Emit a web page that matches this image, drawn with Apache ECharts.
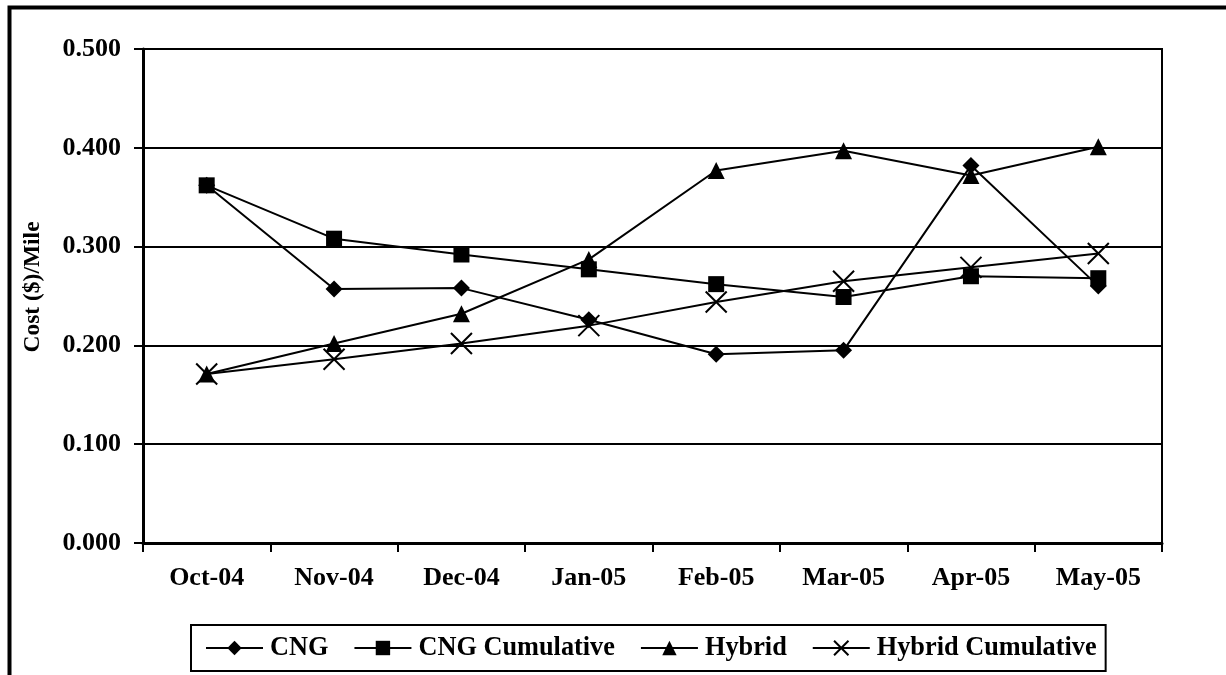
<!DOCTYPE html>
<html><head><meta charset="utf-8">
<script src="https://cdn.jsdelivr.net/npm/echarts@6/dist/echarts.min.js"></script>
<style>html,body{margin:0;padding:0;background:#fff}#c{width:1226px;height:675px}</style>
</head><body><div id="c"></div>
<script>
const categories = ['Oct-04','Nov-04','Dec-04','Jan-05','Feb-05','Mar-05','Apr-05','May-05'];
const cng = [0.362, 0.257, 0.258, 0.226, 0.191, 0.195, 0.382, 0.260];
const cngCumulative = [0.362, 0.308, 0.292, 0.277, 0.262, 0.249, 0.270, 0.268];
const hybrid = [0.171, 0.202, 0.232, 0.287, 0.377, 0.397, 0.372, 0.401];
const hybridCumulative = [0.171, 0.186, 0.202, 0.220, 0.244, 0.265, 0.279, 0.293];
const yTicks = [0, 0.1, 0.2, 0.3, 0.4, 0.5];

const font = 'Liberation Serif';
const chart = echarts.init(document.getElementById('c'), null, {renderer:'canvas'});
const lineS = {color:'#000', width:2};
function mk(name, data, symbol, size, stroke){
  return {name, type:'line', data, symbol, symbolSize:size,
    lineStyle:lineS,
    itemStyle: stroke ? {color:'#000', borderColor:'#000', borderWidth:2} : {color:'#000', borderWidth:0},
    emphasis:{disabled:true}, animation:false};
}
chart.setOption({
  backgroundColor:'#fff',
  animation:false,
  graphic:[{type:'rect', shape:{x:9.5, y:7.5, width:1400, height:900}, style:{fill:'none', stroke:'#000', lineWidth:4}, z:100}],
  grid:{left:143, right:64, top:49, bottom:132, show:true, borderColor:'#000', borderWidth:2, backgroundColor:'transparent'},
  legend:{left:191, top:625, itemGap:25, itemWidth:57, itemHeight:18,
    borderColor:'#000', borderWidth:2, padding:[10,9,10,14],
    textStyle:{fontFamily:font, fontWeight:'bold', fontSize:26.3, color:'#000', padding:[0,0,0,2]},
    data:['CNG','CNG Cumulative','Hybrid','Hybrid Cumulative']},
  xAxis:{type:'category', data:categories, boundaryGap:true,
    axisLine:{lineStyle:{color:'#000', width:3}},
    axisTick:{show:true, length:9, inside:false, alignWithLabel:false, lineStyle:{color:'#000', width:2}},
    axisLabel:{fontFamily:font, fontWeight:'bold', fontSize:26, color:'#000', margin:22},
    splitLine:{show:false}},
  yAxis:{type:'value', min:0, max:0.5, interval:0.1,
    name:'Cost ($)/Mile', nameLocation:'middle', nameRotate:90, nameGap:98,
    nameTextStyle:{fontFamily:font, fontWeight:'bold', fontSize:23.5, color:'#000', padding:[0,0,0,18]},
    axisLine:{show:true, lineStyle:{color:'#000', width:3}},
    axisTick:{show:true, length:9, lineStyle:{color:'#000', width:2}},
    axisLabel:{fontFamily:font, fontWeight:'bold', fontSize:26, color:'#000', margin:22,
      formatter:v=>{const t=yTicks.find(x=>Math.abs(x-v)<1e-9); return (t!==undefined?t:v).toFixed(3);}},
    splitLine:{show:true, lineStyle:{color:'#000', width:2}}},
  series:[
    mk('CNG', cng, 'diamond', 17),
    mk('CNG Cumulative', cngCumulative, 'rect', 16),
    mk('Hybrid', hybrid, 'triangle', 17),
    mk('Hybrid Cumulative', hybridCumulative, 'path://M0,0L10,10M10,0L0,10', 21, true)
  ]
});
</script></body></html>
